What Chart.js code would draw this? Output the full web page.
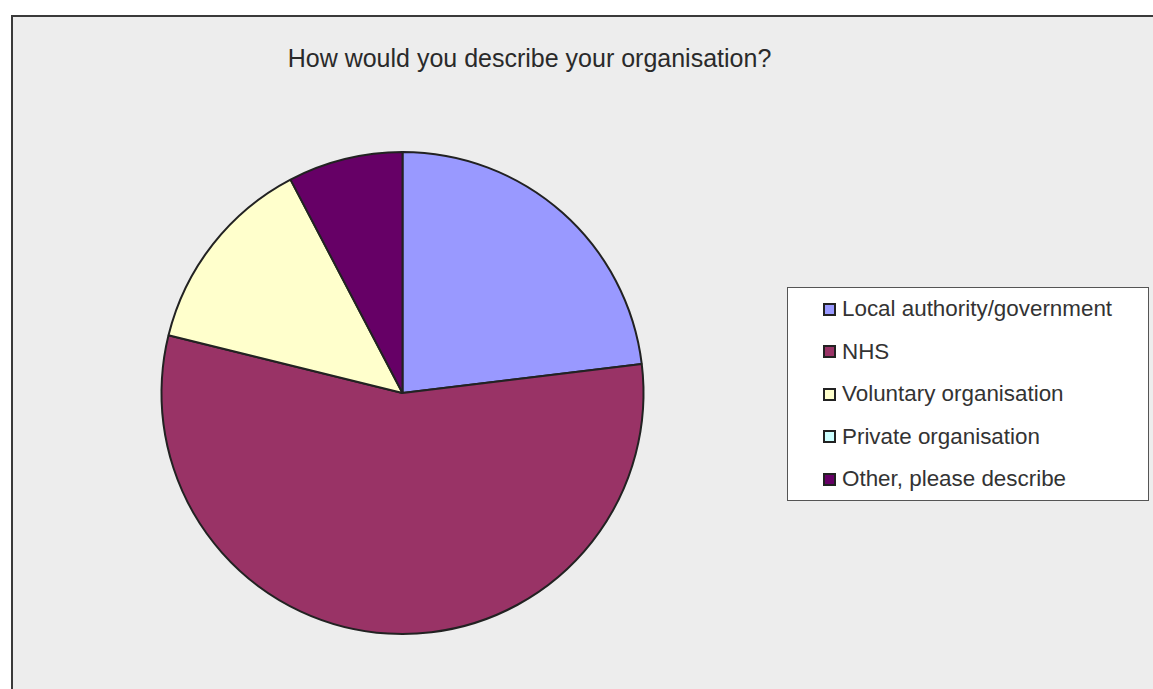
<!DOCTYPE html>
<html>
<head>
<meta charset="utf-8">
<script src="https://cdn.jsdelivr.net/npm/chart.js@4"></script>
<style>
  html, body { margin: 0; padding: 0; background: #fff; overflow: hidden; }
  body { width: 1153px; height: 689px; position: relative; font-family: "Liberation Sans", Arial, sans-serif; }
  #panel {
    position: absolute; left: 11px; top: 15px; right: -4px; bottom: -4px;
    background: #ededed; border-left: 2px solid #3a3a3a; border-top: 2px solid #3a3a3a;
  }
  #title {
    position: absolute; left: 0; width: 1059px; top: 46px;
    text-align: center; font-size: 25px; line-height: 25px; color: #2a2a2a; white-space: nowrap;
  }
  #canvas { position: absolute; left: 0; top: 0; }
  #legend {
    position: absolute; left: 787px; top: 287px; width: 362px; height: 214px;
    background: #fff; border: 1px solid #555; box-sizing: border-box;
  }
  .item { height: 42.5px; line-height: 42.5px; font-size: 22.4px; color: #333; white-space: nowrap; position: relative; }
  .item span.box {
    position: absolute; left: 35px; top: 14.5px; width: 13px; height: 13px;
    box-sizing: border-box; border: 2px solid #222;
  }
  .item span.txt { position: absolute; left: 54px; }
</style>
</head>
<body>
<div id="panel"></div>
<div id="title"></div>
<canvas id="canvas" width="1153" height="689"></canvas>
<div id="legend"></div>
<script>
var title = "How would you describe your organisation?";
var categories = ["Local authority/government", "NHS", "Voluntary organisation", "Private organisation", "Other, please describe"];
var responses = [12, 29, 7, 0, 4];
var colors = ["#9999ff", "#993366", "#ffffcc", "#ccffff", "#660066"];

document.getElementById("title").textContent = title;

// legend built from the same arrays as the pie
var legend = document.getElementById("legend");
categories.forEach(function(name, i) {
  var row = document.createElement("div");
  row.className = "item";
  var box = document.createElement("span");
  box.className = "box";
  box.style.background = colors[i];
  var txt = document.createElement("span");
  txt.className = "txt";
  txt.textContent = name;
  row.appendChild(box);
  row.appendChild(txt);
  legend.appendChild(row);
});

var ctx = document.getElementById("canvas").getContext("2d");
new Chart(ctx, {
  type: "pie",
  data: {
    labels: categories,
    datasets: [{
      data: responses,
      backgroundColor: colors,
      borderColor: "#222",
      borderWidth: 2
    }]
  },
  options: {
    responsive: false,
    animation: false,
    layout: { padding: { left: 160.5, right: 508.5, top: 151, bottom: 54 } },
    plugins: {
      legend: { display: false },
      tooltip: { enabled: false },
      title: { display: false }
    }
  }
});
</script>
</body>
</html>
